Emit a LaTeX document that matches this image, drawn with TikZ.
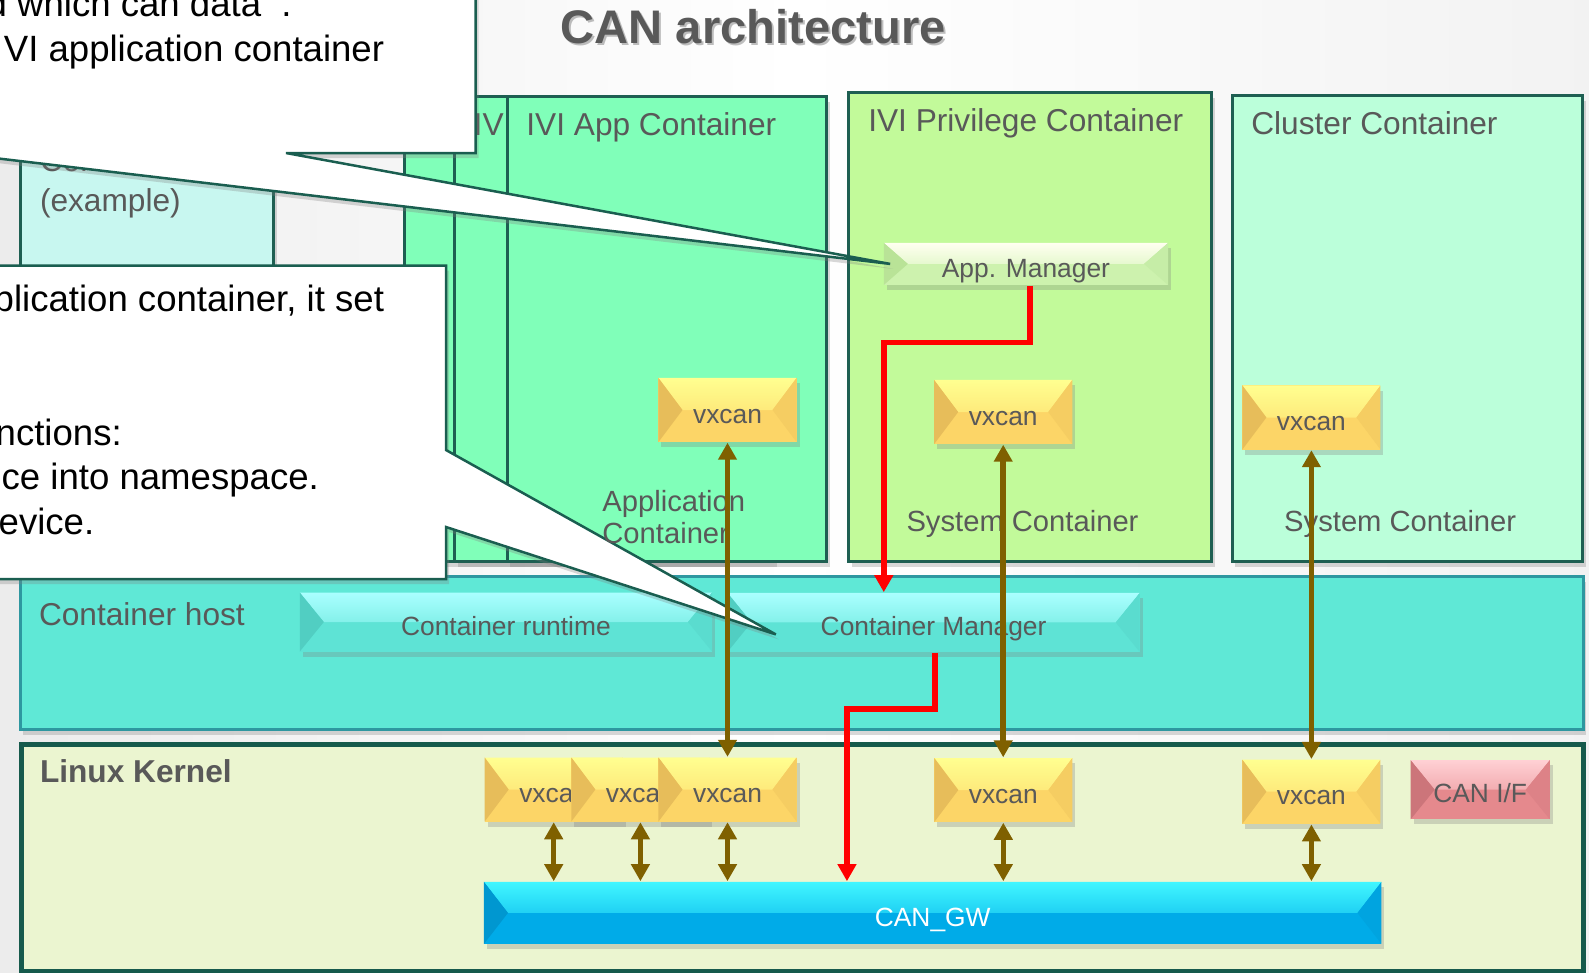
\documentclass[tikz,border=0pt]{standalone}
\usepackage{fontspec}
\setmainfont{Liberation Sans}
\usetikzlibrary{arrows.meta, calc, shadows}

\definecolor{textgray}{HTML}{595959}
\definecolor{boxline}{HTML}{1E5F52}
\definecolor{kernelline}{HTML}{165A4C}
\definecolor{hostline}{HTML}{2E97A0}
\definecolor{examplefill}{HTML}{C8F7F0}
\definecolor{appfill}{HTML}{80FFB9}
\definecolor{privfill}{HTML}{C2FA9A}
\definecolor{clusterfill}{HTML}{BBFFDA}
\definecolor{hostfill}{HTML}{5FE8D6}
\definecolor{kernelfill}{HTML}{EBF5D0}
\definecolor{vxbase}{HTML}{FCD567}
\definecolor{vxtop}{HTML}{FFFF90}
\definecolor{vxside}{HTML}{E0B555}
\definecolor{barbase}{HTML}{5EE3D5}
\definecolor{bartop}{HTML}{AAFFFF}
\definecolor{barside}{HTML}{4CC7BB}
\definecolor{mgrbase}{HTML}{CDF2AE}
\definecolor{mgrtop}{HTML}{FFFFF0}
\definecolor{mgrside}{HTML}{B2DE90}
\definecolor{gwbase}{HTML}{00ABE8}
\definecolor{gwtop}{HTML}{40F6FF}
\definecolor{gwside}{HTML}{0090C8}
\definecolor{ifbase}{HTML}{E5898D}
\definecolor{iftop}{HTML}{FFD0D4}
\definecolor{ifside}{HTML}{C46E74}
\definecolor{canbrown}{HTML}{7F6000}
\definecolor{callline}{HTML}{1A5E50}

% inset of the bevel facets
\def\bevelin{0.24cm}

\tikzset{
  >={Triangle[width=0.18cm,length=0.17cm]},
  softshadow/.style={drop shadow={opacity=0.3, shadow xshift=0.03cm, shadow yshift=-0.05cm}},
  cbox/.style={draw=boxline, line width=0.03cm, anchor=north west, inner sep=0pt, softshadow},
  lbl/.style={anchor=base west, inner sep=0pt, text=textgray, font=\fontsize{9}{11}\selectfont},
  sublbl/.style={lbl, font=\fontsize{8.3}{10}\selectfont},
  bevel/.style n args={3}{fill=#1, inner sep=0pt, softshadow, text=textgray,
    font=\fontsize{7.5}{9}\selectfont, text height=0.75em, text depth=0pt,
    path picture={
      \shade[top color=#2, bottom color=#1]
        (path picture bounding box.north west) -- (path picture bounding box.north east)
        -- ([xshift=-\bevelin]path picture bounding box.east)
        -- ([xshift=\bevelin]path picture bounding box.west) -- cycle;
      \fill[#3!75!#1] (path picture bounding box.north west)
        -- ([xshift=\bevelin]path picture bounding box.west)
        -- (path picture bounding box.south west) -- cycle;
      \fill[#3!25!#1] (path picture bounding box.north east)
        -- ([xshift=-\bevelin]path picture bounding box.east)
        -- (path picture bounding box.south east) -- cycle;
    }},
  vxcan/.style={bevel={vxbase}{vxtop}{vxside}, minimum width=1.38cm, minimum height=0.64cm},
  bar/.style={bevel={barbase}{bartop}{barside}, minimum width=4.12cm, minimum height=0.59cm},
  flow/.style={draw=canbrown, line width=0.055cm, <->},
  ctrl/.style={draw=red, line width=0.055cm, ->},
  callout/.style={fill=white, draw=callline, line width=0.025cm, softshadow},
  calltext/.style={anchor=base west, inner sep=0pt, font=\fontsize{10.4}{12.5}\selectfont}
}

\begin{document}
\begin{tikzpicture}[x=0.01cm, y=-0.01cm]

  % page and background
  \useasboundingbox (0,0) rectangle (1589,972);
  \clip (0,0) rectangle (1589,972);
  \shade[left color=gray!15, right color=gray!10, middle color=white] (0,0) rectangle (1589,972);

  % title
  \node[anchor=base west, inner sep=0pt, text=black, opacity=0.25, font=\bfseries\fontsize{13.4}{16}\selectfont] (titleshadow) at (562,45.5) {CAN architecture};
  \node[anchor=base west, inner sep=0pt, text=textgray, font=\bfseries\fontsize{13.4}{16}\selectfont] (title) at (560,43.3) {CAN architecture};

  % containers
  \node[cbox, fill=examplefill, minimum width=2.53cm, minimum height=1.70cm] (example) at (19,95) {};
  \node[lbl] (examplelbl) at (39.3,171.7) {Container};
  \node[lbl] (examplelbl2) at (39.3,211.7) {(example)};

  \node[cbox, fill=appfill, minimum width=3.193cm, minimum height=4.65cm] (appA) at (402.7,95) {};
  \node[cbox, fill=appfill, minimum width=3.193cm, minimum height=4.65cm] (appB) at (453,95) {};
  \node[lbl] (appBlbl) at (473,135) {IVI App Container};
  \node[cbox, fill=appfill, minimum width=3.193cm, minimum height=4.65cm] (appC) at (505.7,95) {};
  \node[lbl] (appClbl) at (525.7,135) {IVI App Container};

  \node[cbox, fill=privfill, minimum width=3.63cm, minimum height=4.69cm] (priv) at (847,91) {};
  \node[lbl] (privlbl) at (867.6,131.7) {IVI Privilege Container};
  \node[sublbl] (privsys) at (905.8,531.7) {System Container};

  \node[cbox, fill=clusterfill, minimum width=3.505cm, minimum height=4.66cm] (cluster) at (1230.5,94) {};
  \node[lbl] (clusterlbl) at (1250.6,134) {Cluster Container};
  \node[sublbl] (clustersys) at (1283.5,531.7) {System Container};

  \node[bevel={mgrbase}{mgrtop}{mgrside}, minimum width=2.84cm, minimum height=0.42cm] (appmgr) at (1025.9,263.9) {App. Manager};

  \node[vxcan] (appvx) at (727.5,410) {vxcan};
  \node[vxcan] (privvx) at (1003.2,412) {vxcan};
  \node[vxcan] (clustervx) at (1311.4,417.5) {vxcan};

  % container host
  \node[draw=hostline, line width=0.03cm, fill=hostfill, anchor=north west, inner sep=0pt, softshadow,
        minimum width=15.62cm, minimum height=1.53cm] (host) at (18.9,575) {};
  \node[lbl] (hostlbl) at (38.3,625) {Container host};
  \node[bar] (runtime) at (505.9,622) {Container runtime};
  \node[bar] (cmgr) at (933.6,622.4) {Container Manager};

  % linux kernel
  \node[draw=kernelline, line width=0.05cm, fill=kernelfill, anchor=north west, inner sep=0pt,
        minimum width=15.61cm, minimum height=2.27cm] (kernel) at (19,742) {};
  \node[lbl, font=\bfseries\fontsize{9}{11}\selectfont] (kernellbl) at (39.3,782.7) {Linux Kernel};

  \node[vxcan] (kvx1) at (553.7,789.5) {vxcan};
  \node[vxcan] (kvx2) at (640.4,789.5) {vxcan};
  \node[vxcan] (kvx3) at (727.5,789.5) {vxcan};
  \node[vxcan] (kvx4) at (1003.3,790) {vxcan};
  \node[vxcan] (kvx5) at (1311.4,791.7) {vxcan};
  \node[bevel={ifbase}{iftop}{ifside}, minimum width=1.39cm, minimum height=0.59cm] (canif) at (1480.2,789.7) {CAN I/F};
  \node[bevel={gwbase}{gwtop}{gwside}, text=white, minimum width=8.97cm, minimum height=0.62cm] (gw) at (932.7,912.9) {CAN\_GW};

  % callouts
  \coordinate (tipA) at ([xshift=0.07cm]appmgr.west);
  \draw[callout] (-60,-60) -- (475.5,-60) -- (475.5,153) -- (286,153) -- (tipA) -- (-48,153) -- (-60,153) -- cycle;
  \node[calltext] (noteA1) at (-14,16.7) {d which can data\ \ .};
  \node[calltext] (noteA2) at (3.2,61.7) {VI application container};

  \coordinate (tipB) at ($(cmgr.west)+(49,12)$);
  \draw[callout] (-60,265.5) -- (446,265.5) -- (446,450) -- (tipB) -- (446,527) -- (446,579) -- (-60,579) -- cycle;
  \node[calltext] (noteB1) at (-7,311.7) {plication container, it set};
  \node[calltext] (noteB2) at (-5,445) {nctions:};
  \node[calltext] (noteB3) at (1,489.6) {ce into namespace.};
  \node[calltext] (noteB4) at (-2,534) {evice.};

  \node[sublbl] (applbl1) at (601.7,511.7) {Application};
  \node[sublbl] (applbl2) at (601.7,543.3) {Container};

  % vxcan links
  \draw[flow] (appvx.south) -- (appvx.south |- kvx3.north);
  \draw[flow] (privvx.south) -- (privvx.south |- kvx4.north);
  \draw[flow] (clustervx.south) -- (clustervx.south |- kvx5.north);
  \foreach \v in {kvx1, kvx2, kvx3, kvx4, kvx5}
    \draw[flow] (\v.south) -- (\v.south |- gw.north);

  % control paths
  \draw[ctrl] ([xshift=0.04cm]appmgr.south) -- ++(0,56.7) -| ([xshift=-0.498cm]cmgr.north);
  \draw[ctrl] ([xshift=0.012cm]cmgr.south) -- ++(0,56.6) -| ([xshift=-0.857cm]gw.north);

\end{tikzpicture}
\end{document}
